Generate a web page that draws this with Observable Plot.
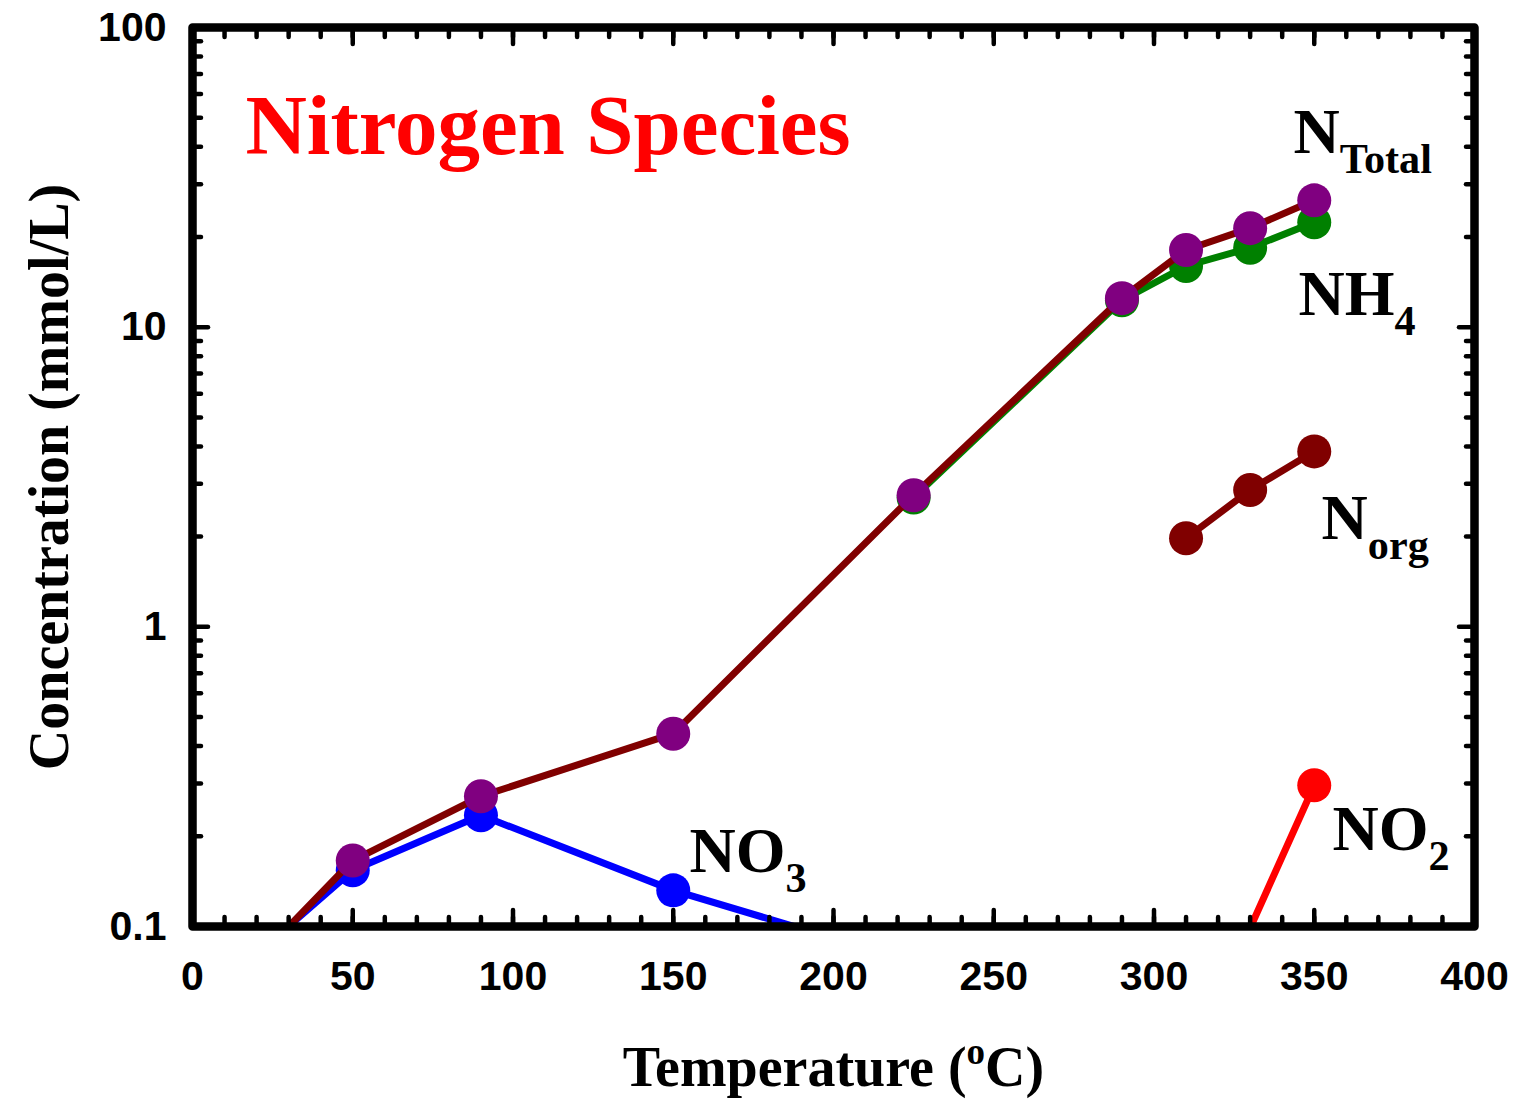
<!DOCTYPE html>
<html>
<head>
<meta charset="utf-8">
<script src="https://cdn.jsdelivr.net/npm/d3@7"></script>
<script src="https://cdn.jsdelivr.net/npm/@observablehq/plot@0.6"></script>
<style>
  html, body { margin: 0; padding: 0; background: #fff; }
</style>
</head>
<body>
<div id="chart"></div>
<script>
// ---- Data ----
const totalT = [25, 50, 90, 150, 225, 290, 310, 330, 350];
const totalV = [0.088, 0.166, 0.272, 0.44, 2.75, 12.5, 18.1, 21.4, 26.5];

const nh4T = [225, 290, 310, 330, 350];
const nh4V = [2.7, 12.3, 16.0, 18.4, 22.4];

const no3T = [25, 50, 90, 150, 225];
const no3V = [0.09, 0.154, 0.235, 0.132, 0.076];

const no2T = [310, 350];
const no2V = [0.033, 0.296];

const norgT = [310, 330, 350];
const norgV = [1.975, 2.86, 3.85];

// Labels
const labelText = ["N_{Total}", "NH_{4}", "N_{org}", "NO_{3}", "NO_{2}"];
const labelX = [343.5, 345.1, 352.3, 155.1, 355.7];
const labelY = [38.1, 10.97, 1.96, 0.1515, 0.1795];

const titleText = "Nitrogen Species";
const titleX = 16.5;
const titleY = 37.8;

const xTitle = "Temperature (^{o}C)";
const yTitle = "Concentration (mmol/L)";

// Ticks
const xMajor = [0, 50, 100, 150, 200, 250, 300, 350, 400];
const xMinor = d3.range(0, 401, 10);
const yMajor = [0.1, 1, 10, 100];
const yMajorLabels = ["0.1", "1", "10", "100"];
const yMinor = [0.2,0.3,0.4,0.5,0.6,0.7,0.8,0.9,2,3,4,5,6,7,8,9,20,30,40,50,60,70,80,90];

// ---- Build tables ----
const zip = (T, V) => T.map((t, i) => ({t, v: V[i]}));
const total = zip(totalT, totalV);
const nh4 = zip(nh4T, nh4V);
const no3 = zip(no3T, no3V);
const no2 = zip(no2T, no2V);
const norg = zip(norgT, norgV);
const labels = labelText.map((s, i) => ({s, x: labelX[i], y: labelY[i]}));
const visible = d => d.v > 0.1;

const series = [
  {data: no3, line: "#0000ff", dot: "#0000ff"},
  {data: no2, line: "#ff0000", dot: "#ff0000"},
  {data: nh4, line: "#008000", dot: "#008000"},
  {data: norg, line: "#800000", dot: "#800000"},
  {data: total, line: "#800000", dot: "#800080"}
];

const serifFont = "'Liberation Serif', 'Times New Roman', serif";
const sansFont = "'Liberation Sans', Arial, sans-serif";
const tickStyle = {stroke: "#000", strokeWidth: 4.5, strokeLinecap: "round"};
const textStyle = {fontSize: 41, fontWeight: "bold", fontFamily: sansFont, fill: "#000"};

const marks = [];
for (const s of series) {
  marks.push(Plot.line(s.data, {x: "t", y: "v", stroke: s.line, strokeWidth: 7, strokeLinecap: "round", strokeLinejoin: "round", clip: true}));
  marks.push(Plot.dot(s.data.filter(visible), {x: "t", y: "v", r: 17, fill: s.dot, stroke: "none"}));
}

// axes: inward ticks on all four sides
for (const anchor of ["bottom", "top"]) {
  marks.push(Plot.axisX(xMinor, {anchor, tickSize: -9, text: null, ...tickStyle}));
  marks.push(Plot.axisX(xMajor, {anchor, tickSize: -16, text: null, ...tickStyle}));
}
for (const anchor of ["left", "right"]) {
  marks.push(Plot.axisY(yMinor, {anchor, tickSize: -9, text: null, ...tickStyle}));
  marks.push(Plot.axisY(yMajor, {anchor, tickSize: -16, text: null, ...tickStyle}));
}
marks.push(Plot.axisX(xMajor, {anchor: "bottom", tickSize: 0, tickPadding: 34, label: null, ...textStyle}));
marks.push(Plot.axisY(yMajor, {anchor: "left", tickSize: 0, tickPadding: 26, label: null,
  tickFormat: (d) => yMajorLabels[yMajor.indexOf(d)], ...textStyle}));

// texts
marks.push(Plot.text([titleText], {x: () => titleX, y: () => titleY, text: d => d, textAnchor: "start", lineAnchor: "bottom",
  fill: "#ff0000", fontSize: 85, fontWeight: "bold", fontFamily: serifFont}));
marks.push(Plot.text(labels, {x: "x", y: "y", text: "s", textAnchor: "start", lineAnchor: "bottom",
  fill: "#000", fontSize: 64, fontWeight: "bold", fontFamily: serifFont}));
marks.push(Plot.text([xTitle], {frameAnchor: "bottom", dy: 159, text: d => d, textAnchor: "middle", lineAnchor: "bottom",
  fill: "#000", fontSize: 56, fontWeight: "bold", fontFamily: serifFont}));
marks.push(Plot.text([yTitle], {frameAnchor: "left", dx: -125, rotate: -90, text: d => d, textAnchor: "middle", lineAnchor: "bottom",
  fill: "#000", fontSize: 56, fontWeight: "bold", fontFamily: serifFont}));

marks.push(Plot.frame({stroke: "#000", strokeWidth: 8.5, strokeLinejoin: "round"}));

const plot = Plot.plot({
  width: 1515,
  height: 1101,
  marginLeft: 192,
  marginRight: 41,
  marginTop: 27,
  marginBottom: 175,
  x: {domain: [0, 400], axis: null},
  y: {type: "log", domain: [0.1, 100], axis: null},
  style: {background: "#fff", overflow: "visible"},
  marks
});
document.getElementById("chart").appendChild(plot);

// Rich text: _{...} subscript, ^{...} superscript
d3.select(plot).selectAll("text").each(function() {
  const t = this.textContent;
  if (!/[_^]\{/.test(t)) return;
  const fs = parseFloat(getComputedStyle(this).fontSize) || 64;
  const re = /([_^])\{([^}]*)\}|([^_^]+)/g;
  const parts = [];
  let m;
  while ((m = re.exec(t))) parts.push(m[3] !== undefined ? {kind: "n", s: m[3]} : {kind: m[1], s: m[2]});
  this.textContent = "";
  let shift = 0;
  for (const p of parts) {
    const ts = document.createElementNS("http://www.w3.org/2000/svg", "tspan");
    let target = 0, size = fs;
    if (p.kind === "_") { target = 0.31 * fs; size = 0.66 * fs; }
    else if (p.kind === "^") { target = -0.38 * fs; size = 0.66 * fs; }
    ts.setAttribute("dy", (target - shift).toFixed(1));
    ts.setAttribute("font-size", size.toFixed(1));
    ts.textContent = p.s;
    shift = target;
    this.appendChild(ts);
  }
});
</script>
</body>
</html>
